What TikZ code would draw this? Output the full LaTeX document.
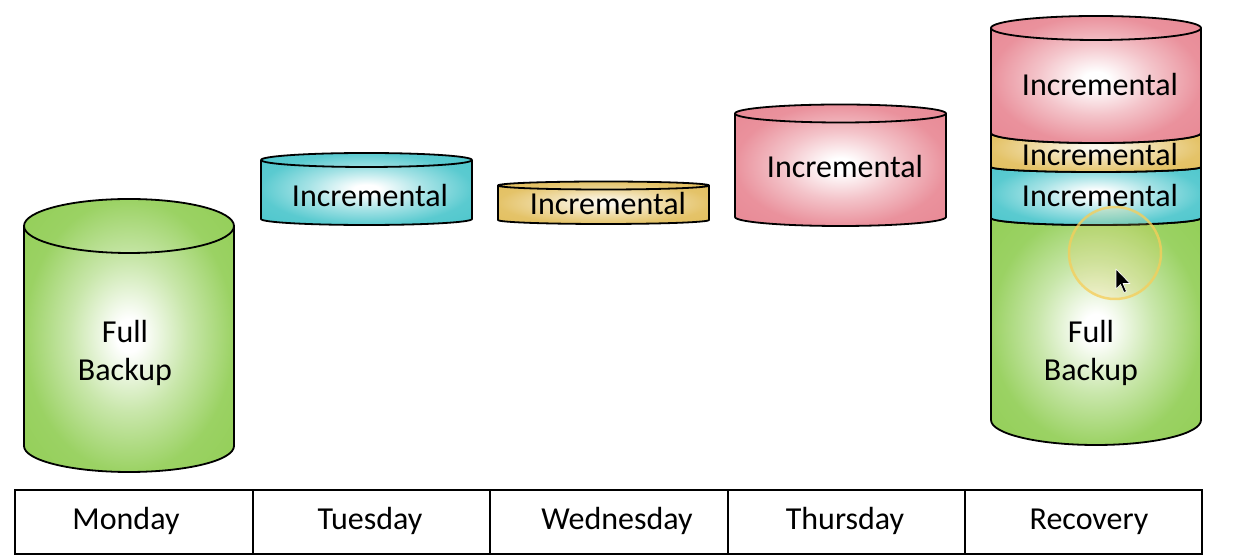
\documentclass[tikz,border=0pt]{standalone}
\usepackage{fontspec}
\setmainfont{Carlito}

\definecolor{fullgreen}{RGB}{146,206,86}
\definecolor{incteal}{RGB}{76,198,204}
\definecolor{incgold}{RGB}{226,190,92}
\definecolor{incrose}{RGB}{232,136,148}
\definecolor{spotring}{RGB}{246,206,90}

% white core fading to the tank colour at the rim
\pgfdeclareradialshading{tankgreen}{\pgfpoint{0bp}{0bp}}{color(0bp)=(white); color(3bp)=(white); color(14bp)=(fullgreen!50!white); color(25bp)=(fullgreen!92!white); color(36bp)=(fullgreen); color(50bp)=(fullgreen)}
\pgfdeclareradialshading{tankteal}{\pgfpoint{0bp}{0bp}}{color(0bp)=(white); color(3bp)=(white); color(14bp)=(incteal!50!white); color(25bp)=(incteal!92!white); color(36bp)=(incteal); color(50bp)=(incteal)}
\pgfdeclareradialshading{tankgold}{\pgfpoint{0bp}{0bp}}{color(0bp)=(white!92!incgold); color(3bp)=(white!88!incgold); color(14bp)=(incgold!55!white); color(25bp)=(incgold!92!white); color(36bp)=(incgold); color(50bp)=(incgold)}
\pgfdeclareradialshading{tankrose}{\pgfpoint{0bp}{0bp}}{color(0bp)=(white); color(3bp)=(white); color(14bp)=(incrose!50!white); color(25bp)=(incrose!92!white); color(36bp)=(incrose); color(50bp)=(incrose)}

% #1 left, #2 right, #3 top centre y, #4 bottom centre y,
% #5 top y-radius, #6 bottom y-radius, #7 shading
\newcommand{\tank}[7]{%
  \pgfmathsetmacro\tankrx{(#2-#1)/2}%
  \pgfmathsetmacro\tankcx{(#1+#2)/2}%
  \shade[shading=#7] (#1,#3) -- (#1,#4)
    arc[start angle=180,end angle=360,x radius=\tankrx,y radius=#6]
    -- (#2,#3)
    arc[start angle=0,end angle=180,x radius=\tankrx,y radius=#5] -- cycle;
  \draw[tankline] (#1,#3) -- (#1,#4)
    arc[start angle=180,end angle=360,x radius=\tankrx,y radius=#6]
    -- (#2,#3);
  \draw[tankline] (\tankcx,#3) ellipse[x radius=\tankrx,y radius=#5];
}

\begin{document}
\begin{tikzpicture}[x=1pt,y=1pt,
  tankline/.style={draw=black,line width=1.8pt,line join=round},
  gridline/.style={draw=black,line width=2pt},
  lbl/.style={font=\fontsize{32}{38}\selectfont,inner sep=0pt,anchor=base,align=center}]
\useasboundingbox (0,0) rectangle (1248,556);
\fill[white] (0,0) rectangle (1248,556);

% Monday: full backup
\tank{24}{234}{330}{110}{27}{26}{tankgreen}
\node[lbl] (monfull) at (125,175) {Full\\Backup};

% Tuesday .. Thursday: incrementals
\tank{261}{472}{396}{337}{7}{6}{tankteal}
\node[lbl] (tueinc) at (370,349) {Incremental};
\tank{498}{709}{370.5}{336}{4}{4}{tankgold}
\node[lbl] (wedinc) at (608,341) {Incremental};
\tank{735}{946}{442.5}{339}{9}{9}{tankrose}
\node[lbl] (thuinc) at (845,378) {Incremental};

% Recovery: the full backup with the incrementals stacked on top
\tank{991}{1201}{338}{136}{7}{25}{tankgreen}
\tank{991}{1201}{389}{338}{5}{7}{tankteal}
\tank{991}{1201}{423}{389}{10}{5}{tankgold}
\tank{991}{1201}{528}{423}{12}{10}{tankrose}
\node[lbl] (recrose) at (1100,460) {Incremental};
\node[lbl] (recgold) at (1100,390) {Incremental};
\node[lbl] (recteal) at (1100,349) {Incremental};
\node[lbl] (recfull) at (1091,175) {Full\\Backup};

% pointer highlight
\fill[spotring,opacity=0.18] (1115,303) circle[radius=47];
\draw[spotring,opacity=0.75,line width=2.5pt] (1115,303) circle[radius=46];
\filldraw[fill=black,draw=white,line width=0.6pt,line join=round]
  (1116,287) -- ++(0,-20) -- ++(4.5,4.5) -- ++(3.5,-8) -- ++(2.5,1) -- ++(-3.5,8) -- ++(7,0) -- cycle;

% day table
\draw[gridline] (15,2) rectangle (1202,66);
\foreach \xx in {253,490,728,965} \draw[gridline] (\xx,2) -- (\xx,66);
\node[lbl] (mon) at (126,26) {Monday};
\node[lbl] (tue) at (370,26) {Tuesday};
\node[lbl] (wed) at (617,26) {Wednesday};
\node[lbl] (thu) at (845,26) {Thursday};
\node[lbl] (rec) at (1089,26) {Recovery};
\end{tikzpicture}
\end{document}
